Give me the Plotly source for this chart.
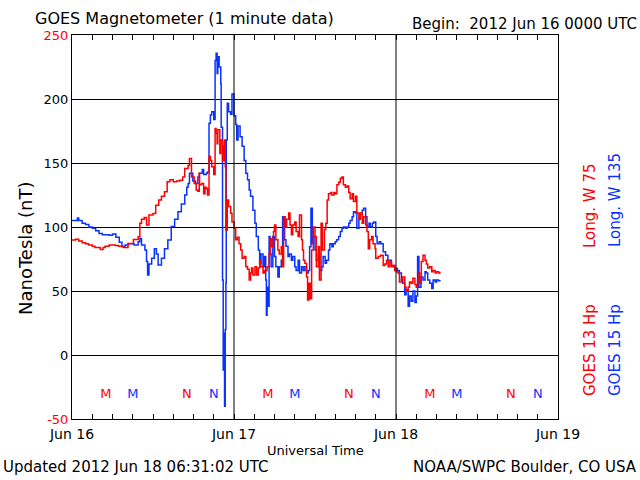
import pandas as pd
import plotly.graph_objects as go

START = pd.Timestamp("2012-06-16 00:00")

# GOES 15 (blue), hours after 2012-06-16 00 UTC and Hp in nT
g15_hours = [0.0, 0.5, 0.8, 1.0, 1.5, 2.0, 2.5, 3.0, 3.5, 4.0, 4.5, 5.0, 5.5, 6.0, 6.5, 7.0, 7.4, 7.85,
             8.3, 8.6, 9.2, 9.8, 10.05, 10.3, 10.8, 11.04, 11.2, 11.4, 11.8, 12.2, 12.5, 12.76, 13.25,
             13.7, 14.2, 14.7, 15.2, 15.7, 16.2, 16.7, 17.0, 17.2, 17.4, 17.9, 18.3, 18.65, 18.85, 19.3,
             19.5, 19.9, 20.07, 20.3, 20.5, 20.7, 21.0, 21.2, 21.35, 21.5, 21.6, 21.8, 22.04, 22.1, 22.3,
             22.4, 22.5, 22.6, 22.7, 22.8, 22.85, 23.0, 23.2, 23.5, 23.7, 24.0, 24.25, 24.4, 24.6, 24.9,
             25.2, 25.5, 25.75, 26.0, 26.25, 26.45, 26.8, 27.1, 27.3, 27.6, 27.8, 28.0, 28.3, 28.5, 28.7,
             28.8, 28.9, 29.05, 29.2, 29.35, 29.5, 29.75, 30.0, 30.2, 30.5, 30.7, 31.0, 31.2, 31.5, 31.7,
             32.0, 32.2, 32.5, 32.7, 33.0, 33.2, 33.5, 33.7, 34.0, 34.25, 34.5, 34.75, 35.0, 35.2, 35.4,
             35.6, 35.75, 36.0, 36.2, 36.5, 36.7, 37.0, 37.2, 37.5, 37.7, 38.0, 38.2, 38.5, 38.7, 39.0,
             39.2, 39.5, 39.75, 40.0, 40.2, 40.5, 40.75, 41.0, 41.2, 41.5, 41.7, 42.0, 42.2, 42.5, 42.7,
             43.0, 43.2, 43.5, 43.7, 44.0, 44.2, 44.5, 44.7, 45.0, 45.2, 45.5, 45.75, 46.1, 46.45, 46.8,
             47.3, 47.8, 48.2, 48.5, 48.8, 49.0, 49.3, 49.5, 49.8, 50.0, 50.25, 50.5, 50.8, 51.0, 51.2,
             51.4, 51.7, 52.0, 52.3, 52.5, 52.7, 53.0, 53.3, 53.5, 53.8, 54.0, 54.3, 54.5]
g15_nt = [105, 105, 107, 105, 103, 102, 100, 99, 97, 95, 94, 94, 93.5, 94.5, 92, 88, 84.5, 86,
          87, 87, 86, 88.5, 91, 86, 82, 73, 62.5, 71, 75.5, 83, 79, 70.3, 75.5,
          83, 89.8, 100.3, 106, 112, 118, 125, 131, 134, 142, 136, 134, 139, 142, 145,
          141, 142, 143, 181, 187.5, 190, 184, 230, 235.7, 220, 233, 225, 212, 178, 58.6,
          -11.7, 17, -40, 20, 56, 168, 196.6, 190, 188, 204, 187, 180, 168, 179, 170.5,
          163, 152, 142, 137, 129, 124, 113, 103, 92.5, 82, 71.6, 79, 69, 77, 58.6,
          31, 53, 38, 92.5, 79, 69, 92.5, 77, 69, 61, 69, 74, 108, 90, 85,
          77, 79, 74, 77, 69, 66, 74, 64, 69, 66, 69, 64, 66, 84.6, 114.6,
          87, 92.5, 82, 74, 79, 66, 69, 77, 71.6, 74, 82, 87, 84.6, 87, 88.5,
          90, 92.5, 96.4, 99, 100, 99, 100, 103, 105, 108, 112, 111, 99, 106, 110,
          113, 114.6, 108, 100, 103, 100, 103, 104, 92.5, 87, 88.5, 87, 80.7, 78, 74,
          70, 67.7, 66, 64, 58.6, 56, 47, 51, 38, 46, 42, 50, 41, 46, 77,
          53, 61, 58.6, 65, 64, 58.6, 56, 52, 58.6, 57, 58.6, 58, 58.6]

# GOES 13 (red)
g13_hours = [0.0, 0.5, 1.0, 1.5, 2.0, 2.45, 3.0, 3.4, 4.2, 4.6, 4.9, 5.5, 5.9, 6.4, 6.9, 7.6, 8.3, 9.1,
             9.8, 10.0, 10.05, 10.3, 10.7, 11.04, 11.4, 12.0, 12.4, 12.85, 13.25, 13.7, 14.1, 14.5, 15.0,
             15.5, 15.95, 16.4, 16.7, 17.2, 17.4, 17.7, 18.1, 18.4, 18.65, 18.85, 18.9, 19.2, 19.5, 19.7,
             19.9, 20.07, 20.3, 20.5, 20.7, 21.0, 21.2, 21.35, 21.5, 21.6, 21.9, 22.04, 22.3, 22.5, 22.6,
             22.7, 22.8, 23.0, 23.2, 23.5, 23.7, 24.0, 24.25, 24.5, 24.75, 25.0, 25.2, 25.5, 25.75, 26.0,
             26.25, 26.45, 26.6, 26.8, 27.1, 27.35, 27.6, 27.8, 28.0, 28.3, 28.5, 28.9, 29.2, 29.4, 29.6,
             29.85, 30.0, 30.2, 30.5, 30.7, 31.0, 31.2, 31.35, 31.6, 31.8, 32.1, 32.3, 32.5, 32.7, 33.0,
             33.2, 33.5, 33.7, 34.0, 34.15, 34.3, 34.5, 34.75, 34.9, 35.1, 35.3, 35.5, 35.75, 36.0, 36.2,
             36.5, 36.65, 36.9, 37.1, 37.4, 37.6, 37.8, 38.0, 38.3, 38.5, 38.8, 39.0, 39.25, 39.5, 39.75,
             40.0, 40.2, 40.5, 40.75, 41.0, 41.2, 41.5, 41.7, 42.0, 42.2, 42.5, 42.7, 43.0, 43.2, 43.5,
             43.7, 43.9, 44.1, 44.4, 44.6, 44.9, 45.0, 45.35, 45.7, 46.1, 46.35, 46.6, 46.85, 47.1, 47.35,
             47.6, 47.8, 48.1, 48.3, 48.5, 48.8, 49.0, 49.3, 49.5, 49.8, 50.0, 50.25, 50.5, 50.8, 51.0,
             51.2, 51.4, 51.5, 51.75, 52.0, 52.3, 52.5, 52.7, 53.0, 53.3, 53.5, 53.8, 54.0, 54.3, 54.5]
g13_nt = [89.8, 90.5, 89, 87.7, 87, 86, 85, 84, 82.5, 84, 85, 86, 86, 85.5, 85, 84, 87.2, 90.3,
          92.4, 92.4, 103, 106, 107.5, 101.6, 109.4, 110.6, 117, 121, 124, 127.6, 135.4, 137, 135.4,
          136, 136.6, 139, 145.8, 148, 153.6, 139, 134, 129, 128, 142, 133, 134, 126, 131,
          130, 125, 155, 152, 147, 141, 177, 173, 165, 176, 157.5, 168, 152, 163, 168,
          147, 97.7, 121, 116, 110.7, 104, 99, 90, 92, 87, 82, 75.5, 77, 69, 67,
          58.6, 64, 68, 62.5, 69, 62.5, 68, 74, 69, 64, 66, 69, 79, 91, 84.6,
          96.4, 101.6, 90, 82, 79, 84.6, 69, 108, 100, 106, 111, 101.6, 94, 101.6, 104,
          96.4, 92.5, 109.4, 90, 82, 74, 71.6, 61, 43, 56, 44, 82, 100, 92.5, 69,
          84.6, 58.6, 103, 82, 98, 103, 121, 126, 127, 125, 127, 126, 133, 135, 138,
          139, 133, 131, 132, 127, 122, 126, 120, 124, 111, 106, 111, 103, 108, 101.6,
          96.4, 83, 90, 92.5, 87, 83, 75.5, 77, 78, 70, 71, 74, 69, 73, 69,
          70, 66, 65, 64, 57, 58.6, 61, 53, 50, 53, 57, 56, 60, 55, 53,
          58.6, 64, 56, 73, 78, 74, 71, 68, 69, 65, 66, 64, 65, 64, 65]

# local midnight (M) / noon (N) markers
marker_hours = [5, 9, 17, 21, 29, 33, 41, 45, 53, 57, 65, 69]
marker_labels = ["M", "M", "N", "N", "M", "M", "N", "N", "M", "M", "N", "N"]
marker_sats = ["g13", "g15"] * 6
marker_level = -31

y_ticks = [-50, 0, 50, 100, 150, 200, 250]
y_tick_labels = ["-50", "0", "50", "100", "150", "200", "250"]
y_red_ticks = [-50, 250]
day_labels = ["Jun 16", "Jun 17", "Jun 18", "Jun 19"]
days_shown = 3
minor_step_hours = 3

RED = "#ff0000"
BLUE = "#0a32ff"
sat_color = {"g13": RED, "g15": BLUE}
FONT = "DejaVu Sans"


def to_time(hours):
    return [START + pd.Timedelta(hours=h) for h in hours]


fig = go.Figure()
fig.add_trace(go.Scatter(x=to_time(g15_hours), y=g15_nt, mode="lines",
                         line=dict(color=BLUE, width=1.5, shape="hv"), showlegend=False))
fig.add_trace(go.Scatter(x=to_time(g13_hours), y=g13_nt, mode="lines",
                         line=dict(color=RED, width=1.5, shape="hv"), showlegend=False))
fig.add_trace(go.Scatter(x=to_time(marker_hours), y=[marker_level] * len(marker_hours),
                         mode="text", text=marker_labels,
                         textfont=dict(family=FONT, size=13, color=[sat_color[s] for s in marker_sats]),
                         showlegend=False))

tick_hours = list(range(0, days_shown * 24 + 1, minor_step_hours))
tick_times = to_time(tick_hours)
tick_text = [day_labels[h // 24] if h % 24 == 0 else "" for h in tick_hours]

y_text = [f"<span style='color:{RED}'>{t}</span>" if v in y_red_ticks else t
          for v, t in zip(y_ticks, y_tick_labels)]

fig.update_xaxes(range=[START, START + pd.Timedelta(hours=days_shown * 24)], automargin=False,
                 tickmode="array", tickvals=tick_times, ticktext=tick_text,
                 ticks="inside", ticklen=5, tickwidth=1, tickcolor="black", ticklabelstandoff=2,
                 showgrid=False, zeroline=False, showline=True, linecolor="black", linewidth=1,
                 mirror="allticks", tickfont=dict(family=FONT, size=14, color="black"))
fig.update_yaxes(range=[y_ticks[0], y_ticks[-1]], automargin=False,
                 tickmode="array", tickvals=y_ticks, ticktext=y_text,
                 ticks="", showgrid=True, gridcolor="black", gridwidth=1, zeroline=False,
                 showline=True, linecolor="black", linewidth=1, mirror=True,
                 tickfont=dict(family=FONT, size=13, color="black"))

# day gridlines
for d in range(1, days_shown):
    t = START + pd.Timedelta(days=d)
    fig.add_shape(type="line", xref="x", yref="paper", x0=t, x1=t, y0=0, y1=1,
                  line=dict(color="black", width=1))

W, H = 640, 480
L, R, T, B = 72, 558, 35, 419


def px(x):
    return (x - L) / (R - L)


def py(y):
    return (B - y) / (B - T)


ann = [
    dict(text="GOES Magnetometer (1 minute data)", x=px(33), y=py(18), xanchor="left", size=16),
    dict(text="Begin:  2012 Jun 16 0000 UTC", x=px(639), y=py(24), xanchor="right", size=15),
    dict(text="Universal Time", x=px(315), y=py(450), xanchor="center", size=13),
    dict(text="Updated 2012 Jun 18 06:31:02 UTC", x=px(1), y=py(467), xanchor="left", size=15),
    dict(text="NOAA/SWPC Boulder, CO USA", x=px(639), y=py(467), xanchor="right", size=15),
]
for a in ann:
    fig.add_annotation(text=a["text"], x=a["x"], y=a["y"], xref="paper", yref="paper",
                       xanchor=a["xanchor"], yanchor="middle", showarrow=False,
                       font=dict(family=FONT, size=a["size"], color="black"))

fig.add_annotation(text="NanoTesla (nT)", x=px(25), y=py(248), xref="paper", yref="paper",
                   textangle=-90, showarrow=False, xanchor="center", yanchor="middle",
                   font=dict(family=FONT, size=18, color="black"))

legend_parts = [
    ("GOES 13 Hp", 590, 350, RED), ("Long. W 75", 590, 206, RED),
    ("GOES 15 Hp", 615, 350, BLUE), ("Long. W 135", 615, 200, BLUE),
]
for txt, lx, ly, col in legend_parts:
    fig.add_annotation(text=txt, x=px(lx), y=py(ly), xref="paper", yref="paper",
                       textangle=-90, showarrow=False, xanchor="center", yanchor="middle",
                       font=dict(family=FONT, size=15, color=col))

fig.update_layout(width=W, height=H, margin=dict(l=L, r=W - R, t=T, b=H - B, autoexpand=False),
                  paper_bgcolor="white", plot_bgcolor="white", showlegend=False)

fig.write_html("out.html", config={"displayModeBar": False},
               post_script="document.body.style.margin='0px';document.body.style.overflow='hidden';")
